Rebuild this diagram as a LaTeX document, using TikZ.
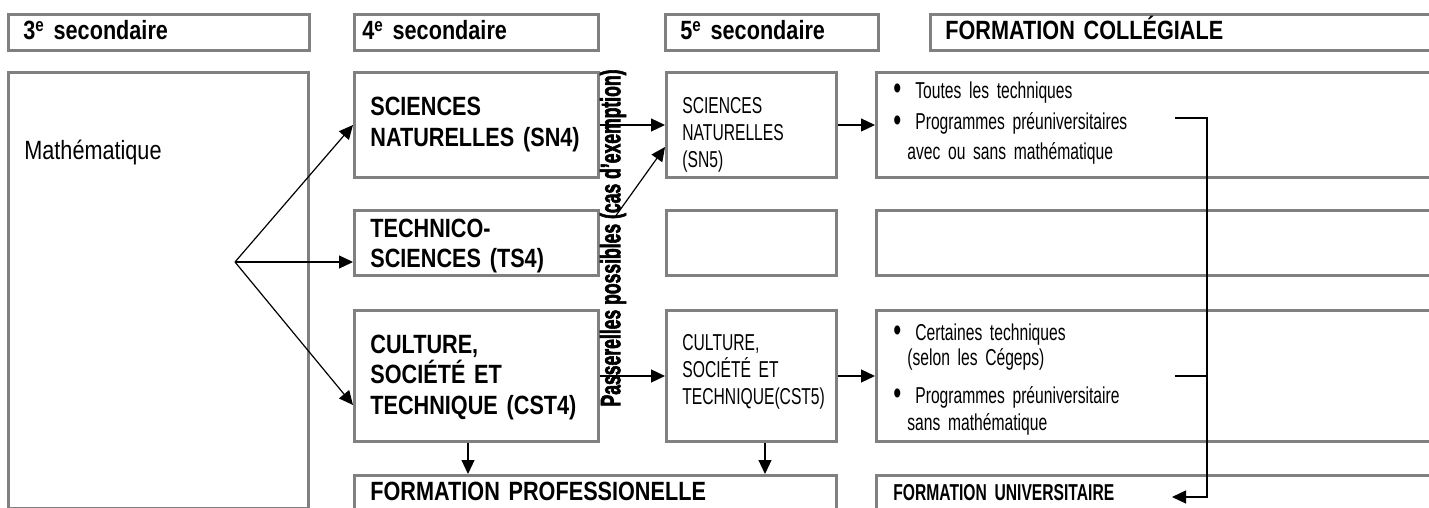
\documentclass[tikz,border=0pt]{standalone}
\usepackage{fontspec}
\setmainfont{Liberation Sans}[FakeStretch=0.82]
\newfontfamily\narrowfont{Liberation Sans}[FakeStretch=0.68]
\usetikzlibrary{arrows.meta}
\newcommand{\bul}{\makebox[11pt][l]{\raisebox{-0.6pt}{\scalebox{1.45}{•}}}}

\begin{document}
\begin{tikzpicture}[x=0.5pt, y=-0.5pt,
  box/.style={draw=gray, line width=1.5pt, anchor=north west, inner sep=0pt},
  big/.style={anchor=base west, inner sep=0pt, text width=220pt, align=left,
    font=\fontsize{13.2}{15.35}\selectfont\bfseries},
  small/.style={anchor=base west, inner sep=0pt, text width=220pt, align=left,
    font=\narrowfont\fontsize{11.5}{13.5}\selectfont},
  arr/.style={-{Triangle[length=7pt,width=6.5pt]}, line width=0.6pt}]
  \useasboundingbox (0,0) rectangle (1429,508);
  \clip (0,0) rectangle (1429,508);

  \node[box, minimum width=150.5pt, minimum height=18pt] (h3) at (7,13) {};
  \node[box, minimum width=122pt, minimum height=18pt] (h4) at (353,13) {};
  \node[box, minimum width=106.5pt, minimum height=18pt] (h5) at (664,13) {};
  \node[box, minimum width=260pt, minimum height=18pt] (hcol) at (929,13) {};
  \node[big] (h3txt) at (23,40) {3\textsuperscript{e} secondaire};
  \node[big] (h4txt) at (362,40) {4\textsuperscript{e} secondaire};
  \node[big] (h5txt) at (680,40) {5\textsuperscript{e} secondaire};
  \node[big] (hcoltxt) at (945,40) {FORMATION COLLÉGIALE};

  \node[box, minimum width=150pt, minimum height=218pt] (math) at (7,71) {};
  \node[big, font=\fontsize{13.2}{15.35}\selectfont] (mathtxt) at (24,159) {Mathématique};

  \node[box, minimum width=122pt, minimum height=52.5pt] (sn4) at (353,71) {};
  \node[box, minimum width=122pt, minimum height=32.5pt] (ts4) at (353,209) {};
  \node[box, minimum width=122pt, minimum height=65.5pt] (cst4) at (353,309) {};
  \node[box, minimum width=241pt, minimum height=30pt] (prof) at (353,474) {};
  \node[big] (sn4txt) at (370,116) {SCIENCES\\NATURELLES (SN4)};
  \node[big] (ts4txt) at (370,237) {TECHNICO-\\SCIENCES (TS4)};
  \node[big] (cst4txt) at (370,353) {CULTURE,\\SOCIÉTÉ ET\\TECHNIQUE (CST4)};
  \node[big] (proftxt) at (370,500) {FORMATION PROFESSIONELLE};

  \node[box, minimum width=85pt, minimum height=52.5pt] (sn5) at (665,71) {};
  \node[box, minimum width=85pt, minimum height=32.5pt] (ts5) at (665,209) {};
  \node[box, minimum width=85pt, minimum height=65.5pt] (cst5) at (665,309) {};
  \node[small] (sn5txt) at (682,113) {SCIENCES\\NATURELLES\\(SN5)};
  \node[small] (cst5txt) at (682,350) {CULTURE,\\SOCIÉTÉ ET\\TECHNIQUE(CST5)};

  \node[box, minimum width=290pt, minimum height=52.5pt] (col1) at (875,71) {};
  \node[box, minimum width=290pt, minimum height=32.5pt] (col2) at (875,209) {};
  \node[box, minimum width=290pt, minimum height=65.5pt] (col3) at (875,309) {};
  \node[box, minimum width=290pt, minimum height=30pt] (univ) at (875,474) {};
  \node[small] (col1txt) at (893,98) {\bul Toutes les techniques\\[2.5pt]
    \bul Programmes préuniversitaires\\[1.5pt]
    \hspace*{7pt}avec ou sans mathématique};
  \node[small] (col3txt) at (893,340) {\bul Certaines techniques\\[-1pt]
    \hspace*{7pt}(selon les Cégeps)\\[5.5pt]
    \bul Programmes préuniversitaire\\
    \hspace*{7pt}sans mathématique};
  \node[small, font=\narrowfont\fontsize{11.5}{13.5}\selectfont\bfseries] (univtxt) at (893,500) {FORMATION UNIVERSITAIRE};

  \node[rotate=90, inner sep=0pt] (passtxt) at (613,238)
    {\resizebox{168.5pt}{\height}{\fontsize{14}{16}\selectfont\bfseries\addfontfeature{FakeBold=2.5}Passerelles possibles (cas d'exemption)}};

  \coordinate (fan) at (235,262);
  \draw[arr] (fan) -- (sn4.west);
  \draw[arr] (fan) -- (fan -| ts4.west);
  \draw[arr] (fan) -- (cst4.west |- 0,405);
  \draw[arr] (sn4.east) -- (sn5.west);
  \coordinate (tsgate) at (615,217);
  \draw[arr] (tsgate) -- (sn5.west |- 0,147);
  \draw[arr] (cst4.east) -- (cst5.west);
  \draw[arr] (sn5.east) -- (col1.west);
  \draw[arr] (cst5.east) -- (col3.west);
  \draw[arr] (cst4.south -| 468,0) -- (prof.north -| 468,0);
  \draw[arr] (cst5.south -| 765,0) -- (prof.north -| 765,0);

  \coordinate (col1out) at (1175,118);
  \coordinate (col3out) at (1175,376);
  \coordinate (univin) at (1172,497);
  \draw[arr] (col1out) -- (1207,118) -- (1207,497) -- (univin);
  \draw[line width=0.6pt] (col3out) -- (col3out -| 1207,0);
\end{tikzpicture}
\end{document}
